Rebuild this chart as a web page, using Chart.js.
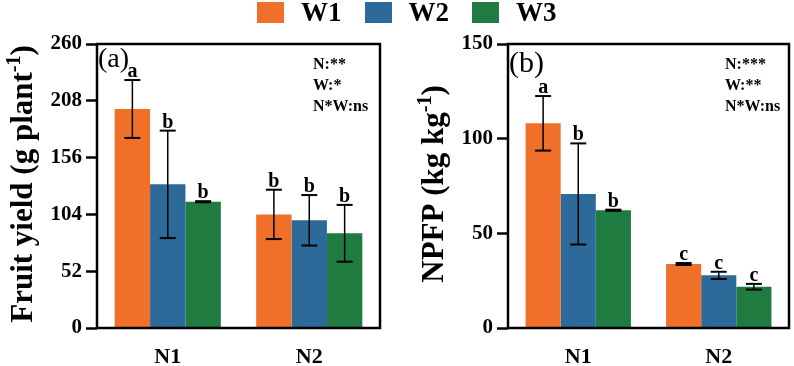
<!DOCTYPE html>
<html>
<head>
<meta charset="utf-8">
<script src="https://cdn.jsdelivr.net/npm/chart.js@4.4.0/dist/chart.umd.min.js"></script>
<style>
  body { margin: 0; background: #fff; }
  #wrap { position: relative; width: 794px; height: 366px; overflow: hidden; }
  canvas { position: absolute; top: 0; }
  #legend { position: absolute; top: 1px; left: 257px; display: flex; align-items: center; z-index: 2;
            font: bold 27px 'Liberation Serif', 'Times New Roman', serif; line-height: 22px; }
  #legend .box { width: 27px; height: 21px; margin-right: 17px; }
  #legend .item { display: flex; align-items: center; margin-right: 23px; }
  #legend .item:last-child { margin-right: 0; }
</style>
</head>
<body>
<div id="wrap">
  <div id="legend"></div>
  <canvas id="yieldChart" width="400" height="366" style="left:0"></canvas>
  <canvas id="npfpChart" width="394" height="366" style="left:400px"></canvas>
</div>
<script>
// Wspólne dane: kategorie i serie
const categories = ['N1', 'N2'];
const seriesNames = ['W1', 'W2', 'W3'];
const seriesColors = ['#F0702A', '#2E6A99', '#1F7B3F'];

// (a) Plon owoców
const yieldW1 = [200.5, 104.0];
const yieldW2 = [131.5, 98.6];
const yieldW3 = [115.6, 86.7];
const yieldErrW1 = [26.5, 22.6];
const yieldErrW2 = [49.2, 23.1];
const yieldErrW3 = [0.5, 26.0];
const yieldLettersW1 = ['a', 'b'];
const yieldLettersW2 = ['b', 'b'];
const yieldLettersW3 = ['b', 'b'];
const yieldTicks = [0, 52, 104, 156, 208, 260];
const yieldStats = ['N:**', 'W:*', 'N*W:ns'];

// (b) NPFP
const npfpW1 = [108.1, 33.8];
const npfpW2 = [70.8, 27.8];
const npfpW3 = [62.2, 21.8];
const npfpErrW1 = [14.4, 0.5];
const npfpErrW2 = [26.7, 1.9];
const npfpErrW3 = [0.3, 1.5];
const npfpLettersW1 = ['a', 'c'];
const npfpLettersW2 = ['b', 'c'];
const npfpLettersW3 = ['b', 'c'];
const npfpTicks = [0, 50, 100, 150];
const npfpStats = ['N:***', 'W:**', 'N*W:ns'];

const serif = "'Liberation Serif', 'Times New Roman', serif";

// Legenda wspólna dla obu paneli
const legendEl = document.getElementById('legend');
seriesNames.forEach((name, i) => {
    const item = document.createElement('div');
    item.className = 'item';
    item.innerHTML = '<div class="box" style="background:' + seriesColors[i] + '"></div><span>' + name + '</span>';
    legendEl.appendChild(item);
});

// Słupki błędów i litery istotności
const errorBarPlugin = {
    id: 'errorBars',
    afterDatasetsDraw(chart) {
        const ctx = chart.ctx;
        const yScale = chart.scales.y;
        ctx.save();
        ctx.strokeStyle = '#000';
        ctx.fillStyle = '#000';
        ctx.font = 'bold 20px ' + serif;
        ctx.textAlign = 'center';
        ctx.textBaseline = 'alphabetic';
        chart.data.datasets.forEach((ds, i) => {
            chart.getDatasetMeta(i).data.forEach((bar, j) => {
                const v = ds.data[j];
                const e = ds.errors[j];
                const yTop = yScale.getPixelForValue(v + e);
                const yBot = yScale.getPixelForValue(v - e);
                ctx.lineWidth = 1.5;
                ctx.beginPath();
                ctx.moveTo(bar.x, yTop);
                ctx.lineTo(bar.x, yBot);
                ctx.stroke();
                ctx.lineWidth = 2;
                [yTop, yBot].forEach(y => {
                    ctx.beginPath();
                    ctx.moveTo(bar.x - 8, y);
                    ctx.lineTo(bar.x + 8, y);
                    ctx.stroke();
                });
                ctx.fillText(ds.letters[j], bar.x, yTop - 3);
            });
        });
        ctx.restore();
    }
};

// Ramka, oznaczenie panelu, statystyki i tytuł osi Y z indeksem górnym
const panelPlugin = {
    id: 'panelDecor',
    afterDraw(chart, args, opts) {
        const ctx = chart.ctx;
        const a = chart.chartArea;
        ctx.save();
        ctx.strokeStyle = '#000';
        ctx.lineWidth = 2.5;
        ctx.strokeRect(a.left, a.top, a.right - a.left, a.bottom - a.top);

        ctx.fillStyle = '#000';
        ctx.textAlign = 'left';
        ctx.textBaseline = 'alphabetic';
        ctx.font = opts.tagSize + 'px ' + serif;
        ctx.fillText(opts.tag, a.left + 1, opts.tagY);

        ctx.font = 'bold 16px ' + serif;
        ctx.textBaseline = 'middle';
        opts.stats.forEach((s, k) => ctx.fillText(s, opts.statsX, 65 + k * 21));

        // tytuł osi: tekst + "-1" + ")"
        ctx.textBaseline = 'alphabetic';
        const bigFont = 'bold 31px ' + serif;
        const supFont = 'bold 20px ' + serif;
        ctx.font = bigFont;
        const w1 = ctx.measureText(opts.title[0]).width;
        const w3 = ctx.measureText(opts.title[2]).width;
        ctx.font = supFont;
        const w2 = ctx.measureText(opts.title[1]).width;
        ctx.translate(opts.titleX, 184);
        ctx.rotate(-Math.PI / 2);
        let x = -(w1 + w2 + w3) / 2;
        ctx.font = bigFont;
        ctx.fillText(opts.title[0], x, 0);
        x += w1;
        ctx.font = supFont;
        ctx.fillText(opts.title[1], x, -12);
        x += w2;
        ctx.font = bigFont;
        ctx.fillText(opts.title[2], x, 0);
        ctx.restore();
    }
};

function makeDatasets(values, errors, letters) {
    return seriesNames.map((name, i) => ({
        label: name,
        data: values[i],
        errors: errors[i],
        letters: letters[i],
        backgroundColor: seriesColors[i],
        borderWidth: 0,
        barPercentage: 1,
        categoryPercentage: 0.75
    }));
}

function makeChart(canvasId, datasets, tickValues, axisWidth, padRight, decor) {
    const ctx = document.getElementById(canvasId).getContext('2d');
    return new Chart(ctx, {
        type: 'bar',
        data: { labels: categories, datasets: datasets },
        plugins: [errorBarPlugin, panelPlugin],
        options: {
            responsive: false,
            animation: false,
            layout: { padding: { top: 44, right: padRight, left: 0, bottom: 0 } },
            plugins: {
                legend: { display: false },
                tooltip: { enabled: false },
                panelDecor: decor
            },
            scales: {
                x: {
                    grid: { display: false },
                    border: { display: false },
                    ticks: { color: '#000', padding: 8, font: { family: serif, size: 22, weight: 'bold' } },
                    afterFit: (scale) => { scale.height = 38; }
                },
                y: {
                    min: tickValues[0],
                    max: tickValues[tickValues.length - 1],
                    afterBuildTicks: (scale) => { scale.ticks = tickValues.map(v => ({ value: v })); },
                    grid: { drawOnChartArea: false, tickLength: 11, tickWidth: 2.5, color: '#000' },
                    border: { display: false },
                    ticks: { color: '#000', padding: 4, font: { family: serif, size: 21, weight: 'bold' } },
                    afterFit: (scale) => { scale.width = axisWidth; }
                }
            }
        }
    });
}

const yieldChart = makeChart('yieldChart',
    makeDatasets([yieldW1, yieldW2, yieldW3], [yieldErrW1, yieldErrW2, yieldErrW3],
                 [yieldLettersW1, yieldLettersW2, yieldLettersW3]),
    yieldTicks, 97, 20,
    { tag: '(a)', tagSize: 28, tagY: 67, stats: yieldStats, statsX: 313,
      title: ['Fruit yield (g plant', '-1', ')'], titleX: 32 });

const npfpChart = makeChart('npfpChart',
    makeDatasets([npfpW1, npfpW2, npfpW3], [npfpErrW1, npfpErrW2, npfpErrW3],
                 [npfpLettersW1, npfpLettersW2, npfpLettersW3]),
    npfpTicks, 108, 5,
    { tag: '(b)', tagSize: 30, tagY: 72, stats: npfpStats, statsX: 325,
      title: ['NPFP (kg kg', '-1', ')'], titleX: 43 });
</script>
</body>
</html>
